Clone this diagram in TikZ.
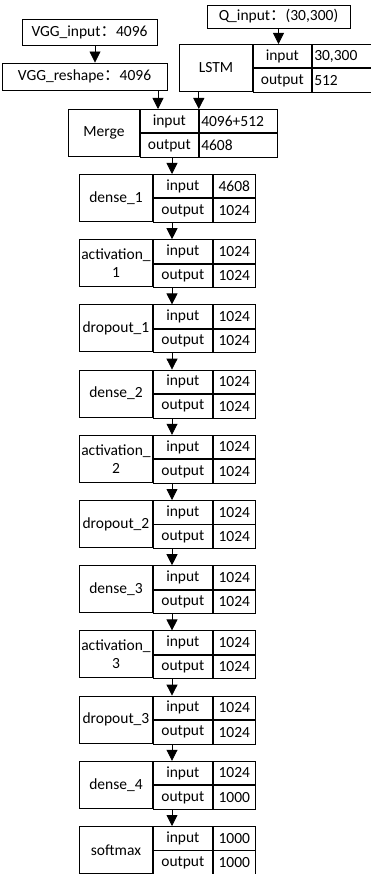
\documentclass[tikz,border=0pt]{standalone}
\usepackage{fontspec}
\setmainfont{Carlito}
\newfontfamily\cjk{Noto Sans CJK SC}
\usetikzlibrary{arrows.meta}
\tikzset{arrow/.style={-{Triangle[width=11pt,length=11pt]}, line width=0.8pt}}
\tikzset{cell/.style={draw, line width=0.9pt, inner xsep=1pt, inner ysep=0pt,
    anchor=north west, align=center, font=\fontsize{15.5}{18}\selectfont}}
\tikzset{box/.style={draw, line width=0.9pt, inner sep=0pt, font=\fontsize{15.5}{18}\selectfont}}
\tikzset{valcell/.style={}}
\newcommand{\wcolon}{{\cjk ：}}
% id, left, top, widths of the three columns, label, input, output
\newcommand{\layertab}[9]{%
  \pgfmathsetmacro{\valw}{#6-4}
  \node[cell, minimum width=#4, minimum height=47] (#1) at (#2,#3) {#7};
  \node[cell, minimum width=#5, minimum height=23.5] (#1-a) at (#1.north east) {input};
  \node[cell, minimum width=#6, minimum height=23.5, valcell] (#1-b) at (#1-a.north east) {#8};
  \node[cell, minimum width=#5, minimum height=23.5] (#1-c) at (#1-a.south west) {output};
  \node[cell, minimum width=#6, minimum height=23.5, valcell] (#1-d) at (#1-c.north east) {#9};
}

\begin{document}
\begin{tikzpicture}[x=1pt, y=-1pt]
    \useasboundingbox (0,0) rectangle (371,874);

    % inputs
    \node[box, minimum width=135, minimum height=26] (vgg_in) at (89.5,32) {VGG\_input\wcolon4096};
    \node[box, minimum width=165, minimum height=27] (vgg_rs) at (84.5,76.5) {VGG\_reshape\wcolon4096};
    \node[box, minimum width=143, minimum height=23] (q_in) at (278.5,16.5) {Q\_input\wcolon(30,300)};

    \begin{scope}[valcell/.style={text width=\valw pt, align=left}]
      \layertab{lstm}{179}{44}{73}{58}{60}{LSTM}{30,300}{512}
      \layertab{merge}{68}{109}{71}{58}{78}{Merge}{4096+512}{4608}
    \end{scope}

    % dense stack
    \foreach \lab/\vin/\vout [count=\i from 0] in {%
        {dense\_1}/4608/1024, {activation\_\\1}/1024/1024, {dropout\_1}/1024/1024,
        {dense\_2}/1024/1024, {activation\_\\2}/1024/1024, {dropout\_2}/1024/1024,
        {dense\_3}/1024/1024, {activation\_\\3}/1024/1024, {dropout\_3}/1024/1024,
        {dense\_4}/1024/1000, {softmax}/1000/1000}
      {\layertab{l\i}{79}{174+65.2*\i}{73}{59}{42}{\lab}{\vin}{\vout}}

    \coordinate (v) at (95,0);
    \coordinate (m) at (158,0);
    \coordinate (spine) at (172,0);

    \draw[arrow] (vgg_in.south -| v) -- (vgg_rs.north -| v);
    \draw[arrow] (q_in.south) -- (q_in.south |- lstm-a.north);
    \draw[arrow] (vgg_rs.south -| m) -- (merge-a.north -| m);
    \draw[arrow] (lstm.south -| merge-a.north east) -- (merge-a.north east);
    \draw[arrow] (merge-c.south -| spine) -- (l0.north -| spine);
    \foreach \i [evaluate=\i as \j using int(\i+1)] in {0,...,9}
      \draw[arrow] (l\i-c.south -| spine) -- (l\j.north -| spine);
\end{tikzpicture}
\end{document}
